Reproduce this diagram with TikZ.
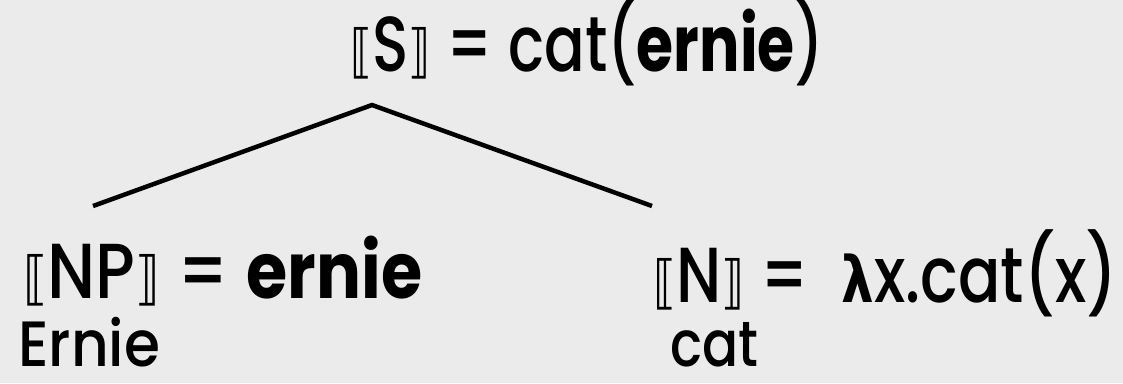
\documentclass[tikz,border=0pt]{standalone}
\usepackage{fontspec}
\usepackage{graphicx}
\setmainfont{Poppins}[UprightFont={* Medium}, BoldFont={* Bold}]
\newfontfamily\dv{DejaVu Sans}
\definecolor{bg}{HTML}{EBEBEB}
\newcommand{\lb}{{\dv\fontsize{58}{64}\selectfont ⟦}}
\newcommand{\rb}{{\dv\fontsize{58}{64}\selectfont ⟧}}
\newcommand{\lam}{{\dv\bfseries\fontsize{64}{70}\selectfont λ}}
\newcommand{\fitw}[2]{\raisebox{0pt}[\height][0pt]{\resizebox{#1}{\height}{#2}}}
\tikzset{
  big/.style={inner sep=0pt, anchor=base west, font=\fontsize{78}{84}\selectfont},
  small/.style={inner sep=0pt, anchor=base west, font=\fontsize{64}{70}\selectfont},
  branch/.style={line width=4.5pt, black}
}
\begin{document}
\begin{tikzpicture}[x=1pt,y=-1pt]
\fill[bg] (0,0) rectangle (1123,383);
\useasboundingbox (0,0) rectangle (1123,383);
\node[big] (s) at (350,71) {\fitw{474pt}{\lb S\rb{} = cat(\textbf{ernie})}};
\node[big] (np) at (23,298) {\fitw{399pt}{\lb NP\rb{} = \textbf{ernie}}};
\node[small] (ernie) at (18,366) {\fitw{142pt}{Ernie}};
\node[big] (n) at (653,302) {\fitw{464pt}{\lb N\rb{} = \ \lam x.cat(x)}};
\node[small] (cat) at (670,366) {\fitw{88pt}{cat}};
\coordinate (top) at (372,105);
\coordinate (l) at (93,206);
\coordinate (r) at (652,206);
\draw[branch] (l) -- (top) -- (r);
\end{tikzpicture}
\end{document}
